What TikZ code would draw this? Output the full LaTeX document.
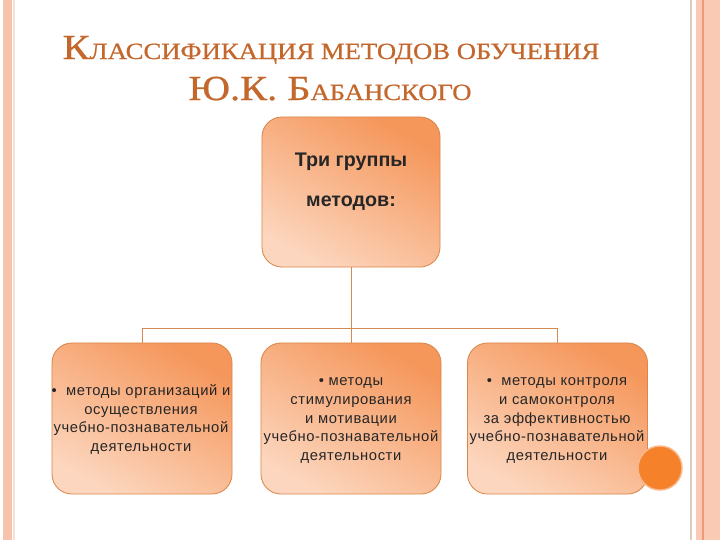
\documentclass[tikz,border=0pt]{standalone}
\usepackage{fontspec}
\setmainfont{Liberation Sans}
\newfontfamily\titlefont{Liberation Serif}[FakeStretch=1.15,FakeBold=0.6]
\newfontfamily\boxfont{Liberation Sans}[LetterSpace=4]
\definecolor{stripe}{HTML}{F6C3AC}
\definecolor{stripelight}{HTML}{FBE0D2}
\definecolor{band}{HTML}{FBCAB5}
\definecolor{bandline}{HTML}{EE9A78}
\definecolor{greyline}{HTML}{DDCCC2}
\definecolor{titlecol}{HTML}{C4672C}
\definecolor{boxdark}{HTML}{F5965A}
\definecolor{boxlight}{HTML}{FCD6BE}
\definecolor{boxline}{HTML}{D9874A}
\definecolor{linkcol}{HTML}{D58A52}
\definecolor{dotcol}{HTML}{F5822A}
\definecolor{dotrim}{HTML}{FAB78A}
\newcommand\titlebig[1]{{\fontsize{25}{28}\selectfont #1}}
\newcommand\titlesmall[1]{{\fontsize{16.5}{18}\selectfont #1}}

\tikzset{
  groupbox/.style={rectangle,rounded corners=0.5cm,draw=boxline,line width=0.6pt,
    top color=boxdark,bottom color=boxlight,shading angle=-30},
  topbox/.style={groupbox,minimum width=4.45cm,minimum height=3.75cm},
  methodbox/.style={groupbox,minimum width=4.5cm,minimum height=3.775cm},
  boxtext/.style={align=center,text=black!85,font=\boxfont\fontsize{10.5}{13.2}\selectfont},
  headtext/.style={align=center,text=black!85,font=\bfseries\fontsize{14}{28.5}\selectfont},
  title/.style={anchor=base,text=titlecol,font=\titlefont,inner sep=0pt},
  link/.style={draw=linkcol,line width=0.7pt}
}

\begin{document}
\begin{tikzpicture}[x=0.025cm,y=-0.025cm]
      \useasboundingbox (0,0) rectangle (720,540);
      \fill[white] (0,0) rectangle (720,540);
      % slide frame
      \fill[stripe] (3,0) rectangle (12,540);
      \fill[stripelight] (13,0) rectangle (15,540);
      \fill[greyline] (690,0) rectangle (692,540);
      \fill[band] (696,0) rectangle (720,540);
      \fill[bandline] (702,0) rectangle (704,540);

      \node [title] (title1) at (331,59) {\titlebig{К}\titlesmall{ЛАССИФИКАЦИЯ МЕТОДОВ ОБУЧЕНИЯ}};
      \node [title] (title2) at (330,100) {\titlebig{Ю.К. Б}\titlesmall{АБАНСКОГО}};

      \node [topbox] (groups) at (351,192) {};
      \node [headtext] (groupsText) at (351,182) {Три группы\\методов:};

      \node [methodbox] (org) at (142,418.5) {};
      \node [methodbox] (stim) at (351,418.5) {};
      \node [methodbox] (ctrl) at (557.5,418.5) {};
      \node [boxtext] (orgText) at (141,419.5) {•\ \ методы организаций и\\осуществления\\учебно-познавательной\\деятельности};
      \node [boxtext] (stimText) at (351,420.5) {• методы\\стимулирования\\и мотивации\\учебно-познавательной\\деятельности};
      \node [boxtext] (ctrlText) at (557,420.5) {•\ \ методы контроля\\и самоконтроля\\за эффективностью\\учебно-познавательной\\деятельности};

      \node [circle,fill=dotcol,draw=dotrim,line width=1pt,minimum size=1.1cm] (dot) at (660,468) {};

      \coordinate (split) at (351,328);
      \draw [link] (groups) -- (split);
      \foreach \to in {org,stim,ctrl}
        \draw [link] (split) -| (\to);
\end{tikzpicture}
\end{document}
